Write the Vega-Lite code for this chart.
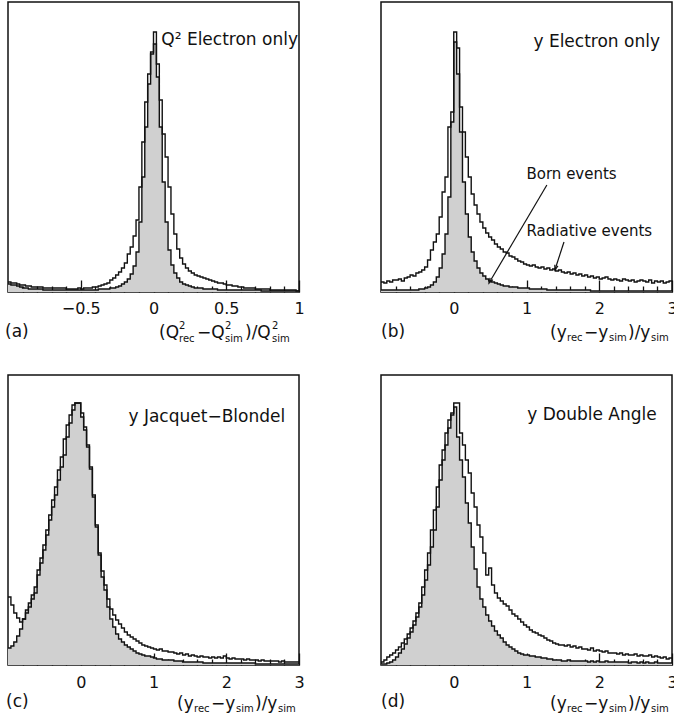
{
"$schema": "https://vega.github.io/schema/vega-lite/v6.json",
"padding": {"left": 4, "top": 1, "right": 0, "bottom": 0},
"columns": 2,
"spacing": {"row": 83, "column": 82},
"bounds": "flush",
"config": {
  "view": {"stroke": "#111", "strokeWidth": 1.5},
  "axis": {"domain": false, "grid": false, "tickColor": "#111", "tickWidth": 1.3, "labelFont": "DejaVu Sans", "labelFontSize": 16, "labelColor": "#111", "labelFlush": false, "labelOverlap": false, "labelBound": false},
  "text": {"font": "DejaVu Sans", "color": "#111", "baseline": "middle", "align": "left"}
},
"datasets": {
"a": [
{"x":-1,"r":10,"b":8},{"x":-0.98,"r":9,"b":7},{"x":-0.96,"r":9,"b":7},{"x":-0.94,"r":8,"b":6},{"x":-0.92,"r":7,"b":5},
{"x":-0.9,"r":7,"b":4},{"x":-0.88,"r":6,"b":4},{"x":-0.86,"r":6,"b":3},{"x":-0.84,"r":5,"b":3},{"x":-0.82,"r":5,"b":3},
{"x":-0.8,"r":5,"b":3},{"x":-0.78,"r":5,"b":3},{"x":-0.76,"r":4,"b":2},{"x":-0.74,"r":4,"b":2},{"x":-0.72,"r":4,"b":2},
{"x":-0.7,"r":4,"b":2},{"x":-0.68,"r":4,"b":2},{"x":-0.66,"r":4,"b":2},{"x":-0.64,"r":4,"b":2},{"x":-0.62,"r":4,"b":2},
{"x":-0.6,"r":3,"b":2},{"x":-0.58,"r":3,"b":2},{"x":-0.56,"r":3,"b":2},{"x":-0.54,"r":3,"b":2},{"x":-0.52,"r":4,"b":2},
{"x":-0.5,"r":3,"b":2},{"x":-0.48,"r":4,"b":2},{"x":-0.46,"r":4,"b":2},{"x":-0.44,"r":4,"b":2},{"x":-0.42,"r":5,"b":2},
{"x":-0.4,"r":5,"b":2},{"x":-0.38,"r":6,"b":3},{"x":-0.36,"r":7,"b":3},{"x":-0.34,"r":8,"b":3},{"x":-0.32,"r":9,"b":3},
{"x":-0.3,"r":12,"b":4},{"x":-0.28,"r":14,"b":4},{"x":-0.26,"r":17,"b":5},{"x":-0.24,"r":20,"b":6},{"x":-0.22,"r":24,"b":8},
{"x":-0.2,"r":29,"b":10},{"x":-0.18,"r":38,"b":13},{"x":-0.16,"r":45,"b":18},{"x":-0.14,"r":56,"b":26},{"x":-0.12,"r":72,"b":40},
{"x":-0.1,"r":105,"b":70},{"x":-0.08,"r":150,"b":115},{"x":-0.06,"r":190,"b":165},{"x":-0.04,"r":218,"b":208},{"x":-0.02,"r":240,"b":238},
{"x":0,"r":260,"b":248},{"x":0.02,"r":228,"b":215},{"x":0.04,"r":192,"b":165},{"x":0.06,"r":158,"b":110},{"x":0.08,"r":135,"b":70},
{"x":0.1,"r":105,"b":42},{"x":0.12,"r":78,"b":27},{"x":0.14,"r":58,"b":19},{"x":0.16,"r":43,"b":14},{"x":0.18,"r":34,"b":10},
{"x":0.2,"r":28,"b":8},{"x":0.22,"r":24,"b":7},{"x":0.24,"r":21,"b":6},{"x":0.26,"r":19,"b":5},{"x":0.28,"r":17,"b":4},
{"x":0.3,"r":16,"b":4},{"x":0.32,"r":15,"b":4},{"x":0.34,"r":14,"b":3},{"x":0.36,"r":13,"b":3},{"x":0.38,"r":12,"b":3},
{"x":0.4,"r":11,"b":3},{"x":0.42,"r":10,"b":3},{"x":0.44,"r":9,"b":2},{"x":0.46,"r":9,"b":2},{"x":0.48,"r":8,"b":2},
{"x":0.5,"r":7,"b":2},{"x":0.52,"r":7,"b":2},{"x":0.54,"r":6,"b":2},{"x":0.56,"r":6,"b":2},{"x":0.58,"r":5,"b":2},
{"x":0.6,"r":5,"b":2},{"x":0.62,"r":4,"b":2},{"x":0.64,"r":4,"b":2},{"x":0.66,"r":4,"b":2},{"x":0.68,"r":4,"b":2},
{"x":0.7,"r":3,"b":2},{"x":0.72,"r":3,"b":2},{"x":0.74,"r":3,"b":1},{"x":0.76,"r":3,"b":1},{"x":0.78,"r":3,"b":1},
{"x":0.8,"r":2,"b":1},{"x":0.82,"r":2,"b":1},{"x":0.84,"r":2,"b":1},{"x":0.86,"r":2,"b":1},{"x":0.88,"r":2,"b":1},
{"x":0.9,"r":2,"b":1},{"x":0.92,"r":2,"b":1},{"x":0.94,"r":2,"b":1},{"x":0.96,"r":2,"b":1},{"x":0.98,"r":1,"b":1},
{"x":1,"r":1,"b":1}
],
"b": [
{"x":-1,"r":10,"b":2},{"x":-0.96,"r":9,"b":2},{"x":-0.92,"r":11,"b":2},{"x":-0.88,"r":10,"b":2},{"x":-0.84,"r":12,"b":2},
{"x":-0.8,"r":12,"b":2},{"x":-0.76,"r":13,"b":2},{"x":-0.72,"r":11,"b":2},{"x":-0.68,"r":14,"b":2},{"x":-0.64,"r":15,"b":2},
{"x":-0.6,"r":17,"b":2},{"x":-0.56,"r":16,"b":2},{"x":-0.52,"r":19,"b":2},{"x":-0.48,"r":20,"b":3},{"x":-0.44,"r":22,"b":3},
{"x":-0.4,"r":25,"b":4},{"x":-0.36,"r":32,"b":5},{"x":-0.32,"r":42,"b":7},{"x":-0.28,"r":50,"b":10},{"x":-0.24,"r":58,"b":15},
{"x":-0.2,"r":75,"b":24},{"x":-0.16,"r":100,"b":38},{"x":-0.12,"r":115,"b":58},{"x":-0.08,"r":165,"b":95},{"x":-0.04,"r":180,"b":170},
{"x":0,"r":260,"b":250},{"x":0.04,"r":244,"b":218},{"x":0.08,"r":185,"b":160},{"x":0.12,"r":160,"b":110},{"x":0.16,"r":135,"b":78},
{"x":0.2,"r":115,"b":55},{"x":0.24,"r":98,"b":40},{"x":0.28,"r":87,"b":31},{"x":0.32,"r":78,"b":24},{"x":0.36,"r":70,"b":19},
{"x":0.4,"r":64,"b":16},{"x":0.44,"r":59,"b":13},{"x":0.48,"r":55,"b":11},{"x":0.52,"r":52,"b":10},{"x":0.56,"r":48,"b":9},
{"x":0.6,"r":45,"b":8},{"x":0.64,"r":43,"b":7},{"x":0.68,"r":40,"b":6},{"x":0.72,"r":39,"b":6},{"x":0.76,"r":36,"b":5},
{"x":0.8,"r":35,"b":5},{"x":0.84,"r":33,"b":5},{"x":0.88,"r":31,"b":4},{"x":0.92,"r":30,"b":4},{"x":0.96,"r":28,"b":4},
{"x":1,"r":27,"b":4},{"x":1.04,"r":26,"b":3},{"x":1.08,"r":27,"b":3},{"x":1.12,"r":25,"b":3},{"x":1.16,"r":24,"b":3},
{"x":1.2,"r":25,"b":3},{"x":1.24,"r":23,"b":3},{"x":1.28,"r":24,"b":2},{"x":1.32,"r":22,"b":2},{"x":1.36,"r":23,"b":2},
{"x":1.4,"r":21,"b":2},{"x":1.44,"r":22,"b":2},{"x":1.48,"r":20,"b":2},{"x":1.52,"r":19,"b":2},{"x":1.56,"r":20,"b":2},
{"x":1.6,"r":18,"b":2},{"x":1.64,"r":19,"b":2},{"x":1.68,"r":17,"b":2},{"x":1.72,"r":18,"b":2},{"x":1.76,"r":16,"b":2},
{"x":1.8,"r":17,"b":2},{"x":1.84,"r":15,"b":2},{"x":1.88,"r":16,"b":1},{"x":1.92,"r":14,"b":1},{"x":1.96,"r":15,"b":1},
{"x":2,"r":13,"b":1},{"x":2.04,"r":14,"b":1},{"x":2.08,"r":15,"b":1},{"x":2.12,"r":13,"b":1},{"x":2.16,"r":12,"b":1},
{"x":2.2,"r":13,"b":1},{"x":2.24,"r":12,"b":1},{"x":2.28,"r":11,"b":1},{"x":2.32,"r":13,"b":1},{"x":2.36,"r":12,"b":1},
{"x":2.4,"r":11,"b":1},{"x":2.44,"r":12,"b":1},{"x":2.48,"r":10,"b":1},{"x":2.52,"r":11,"b":1},{"x":2.56,"r":12,"b":1},
{"x":2.6,"r":11,"b":1},{"x":2.64,"r":10,"b":1},{"x":2.68,"r":12,"b":1},{"x":2.72,"r":9,"b":1},{"x":2.76,"r":11,"b":1},
{"x":2.8,"r":10,"b":1},{"x":2.84,"r":11,"b":1},{"x":2.88,"r":9,"b":1},{"x":2.92,"r":10,"b":1},{"x":2.96,"r":11,"b":1},
{"x":3,"r":11,"b":1}
],
"c": [
{"x":-1,"r":68,"b":17},{"x":-0.96,"r":60,"b":19},{"x":-0.92,"r":52,"b":23},{"x":-0.88,"r":47,"b":29},{"x":-0.84,"r":43,"b":36},
{"x":-0.8,"r":46,"b":46},{"x":-0.76,"r":52,"b":55},{"x":-0.72,"r":58,"b":62},{"x":-0.68,"r":66,"b":70},{"x":-0.64,"r":72,"b":78},
{"x":-0.6,"r":95,"b":90},{"x":-0.56,"r":107,"b":102},{"x":-0.52,"r":120,"b":115},{"x":-0.48,"r":135,"b":130},{"x":-0.44,"r":150,"b":145},
{"x":-0.4,"r":165,"b":158},{"x":-0.36,"r":178,"b":170},{"x":-0.32,"r":195,"b":185},{"x":-0.28,"r":208,"b":198},{"x":-0.24,"r":226,"b":210},
{"x":-0.2,"r":240,"b":228},{"x":-0.16,"r":250,"b":242},{"x":-0.12,"r":260,"b":255},{"x":-0.08,"r":262,"b":262},{"x":-0.04,"r":262,"b":262},
{"x":0,"r":252,"b":248},{"x":0.04,"r":238,"b":235},{"x":0.08,"r":220,"b":218},{"x":0.12,"r":198,"b":196},{"x":0.16,"r":170,"b":168},
{"x":0.2,"r":140,"b":138},{"x":0.24,"r":112,"b":110},{"x":0.28,"r":94,"b":88},{"x":0.32,"r":80,"b":75},{"x":0.36,"r":66,"b":58},
{"x":0.4,"r":56,"b":46},{"x":0.44,"r":50,"b":38},{"x":0.48,"r":45,"b":31},{"x":0.52,"r":41,"b":26},{"x":0.56,"r":37,"b":23},
{"x":0.6,"r":33,"b":20},{"x":0.64,"r":30,"b":18},{"x":0.68,"r":28,"b":16},{"x":0.72,"r":26,"b":14},{"x":0.76,"r":24,"b":12},
{"x":0.8,"r":22,"b":11},{"x":0.84,"r":20,"b":10},{"x":0.88,"r":19,"b":9},{"x":0.92,"r":18,"b":9},{"x":0.96,"r":17,"b":8},
{"x":1,"r":16,"b":7},{"x":1.04,"r":15,"b":6},{"x":1.08,"r":16,"b":6},{"x":1.12,"r":14,"b":5},{"x":1.16,"r":14,"b":5},
{"x":1.2,"r":13,"b":5},{"x":1.24,"r":13,"b":5},{"x":1.28,"r":12,"b":4},{"x":1.32,"r":11,"b":4},{"x":1.36,"r":12,"b":4},
{"x":1.4,"r":10,"b":3},{"x":1.44,"r":11,"b":3},{"x":1.48,"r":9,"b":3},{"x":1.52,"r":10,"b":3},{"x":1.56,"r":9,"b":3},
{"x":1.6,"r":8,"b":3},{"x":1.64,"r":9,"b":3},{"x":1.68,"r":8,"b":2},{"x":1.72,"r":8,"b":2},{"x":1.76,"r":7,"b":2},
{"x":1.8,"r":8,"b":2},{"x":1.84,"r":7,"b":2},{"x":1.88,"r":8,"b":2},{"x":1.92,"r":7,"b":2},{"x":1.96,"r":9,"b":2},
{"x":2,"r":7,"b":2},{"x":2.04,"r":6,"b":2},{"x":2.08,"r":7,"b":2},{"x":2.12,"r":6,"b":2},{"x":2.16,"r":6,"b":2},
{"x":2.2,"r":6,"b":2},{"x":2.24,"r":5,"b":2},{"x":2.28,"r":6,"b":2},{"x":2.32,"r":5,"b":2},{"x":2.36,"r":5,"b":2},
{"x":2.4,"r":5,"b":1},{"x":2.44,"r":4,"b":1},{"x":2.48,"r":5,"b":1},{"x":2.52,"r":4,"b":1},{"x":2.56,"r":4,"b":1},
{"x":2.6,"r":4,"b":1},{"x":2.64,"r":4,"b":1},{"x":2.68,"r":4,"b":1},{"x":2.72,"r":3,"b":1},{"x":2.76,"r":4,"b":1},
{"x":2.8,"r":3,"b":1},{"x":2.84,"r":3,"b":1},{"x":2.88,"r":3,"b":1},{"x":2.92,"r":3,"b":1},{"x":2.96,"r":3,"b":1},
{"x":3,"r":3,"b":1}
],
"d": [
{"x":-1,"r":3,"b":1},{"x":-0.96,"r":5,"b":1},{"x":-0.92,"r":8,"b":2},{"x":-0.88,"r":10,"b":3},{"x":-0.84,"r":12,"b":5},
{"x":-0.8,"r":15,"b":8},{"x":-0.76,"r":18,"b":12},{"x":-0.72,"r":22,"b":16},{"x":-0.68,"r":26,"b":21},{"x":-0.64,"r":31,"b":27},
{"x":-0.6,"r":37,"b":33},{"x":-0.56,"r":44,"b":40},{"x":-0.52,"r":52,"b":48},{"x":-0.48,"r":62,"b":58},{"x":-0.44,"r":78,"b":70},
{"x":-0.4,"r":95,"b":85},{"x":-0.36,"r":112,"b":100},{"x":-0.32,"r":135,"b":118},{"x":-0.28,"r":155,"b":135},{"x":-0.24,"r":178,"b":158},
{"x":-0.2,"r":200,"b":185},{"x":-0.16,"r":215,"b":205},{"x":-0.12,"r":232,"b":220},{"x":-0.08,"r":245,"b":237},{"x":-0.04,"r":252,"b":250},
{"x":0,"r":262,"b":258},{"x":0.04,"r":262,"b":228},{"x":0.08,"r":232,"b":205},{"x":0.12,"r":220,"b":188},{"x":0.16,"r":205,"b":162},
{"x":0.2,"r":192,"b":142},{"x":0.24,"r":172,"b":118},{"x":0.28,"r":158,"b":96},{"x":0.32,"r":140,"b":78},{"x":0.36,"r":128,"b":66},
{"x":0.4,"r":112,"b":58},{"x":0.44,"r":90,"b":50},{"x":0.48,"r":97,"b":44},{"x":0.52,"r":80,"b":39},{"x":0.56,"r":72,"b":34},
{"x":0.6,"r":67,"b":30},{"x":0.64,"r":64,"b":27},{"x":0.68,"r":61,"b":23},{"x":0.72,"r":59,"b":20},{"x":0.76,"r":55,"b":18},
{"x":0.8,"r":51,"b":16},{"x":0.84,"r":49,"b":14},{"x":0.88,"r":46,"b":12},{"x":0.92,"r":43,"b":11},{"x":0.96,"r":40,"b":10},
{"x":1,"r":38,"b":10},{"x":1.04,"r":35,"b":9},{"x":1.08,"r":33,"b":9},{"x":1.12,"r":32,"b":8},{"x":1.16,"r":30,"b":8},
{"x":1.2,"r":29,"b":7},{"x":1.24,"r":27,"b":7},{"x":1.28,"r":25,"b":6},{"x":1.32,"r":24,"b":6},{"x":1.36,"r":22,"b":5},
{"x":1.4,"r":21,"b":5},{"x":1.44,"r":20,"b":5},{"x":1.48,"r":20,"b":4},{"x":1.52,"r":19,"b":4},{"x":1.56,"r":20,"b":5},
{"x":1.6,"r":18,"b":4},{"x":1.64,"r":19,"b":4},{"x":1.68,"r":17,"b":4},{"x":1.72,"r":18,"b":4},{"x":1.76,"r":16,"b":4},
{"x":1.8,"r":16,"b":4},{"x":1.84,"r":15,"b":3},{"x":1.88,"r":17,"b":4},{"x":1.92,"r":14,"b":3},{"x":1.96,"r":15,"b":4},
{"x":2,"r":14,"b":3},{"x":2.04,"r":13,"b":3},{"x":2.08,"r":14,"b":4},{"x":2.12,"r":12,"b":3},{"x":2.16,"r":12,"b":3},
{"x":2.2,"r":12,"b":3},{"x":2.24,"r":11,"b":3},{"x":2.28,"r":12,"b":3},{"x":2.32,"r":10,"b":3},{"x":2.36,"r":11,"b":3},
{"x":2.4,"r":10,"b":2},{"x":2.44,"r":10,"b":3},{"x":2.48,"r":11,"b":3},{"x":2.52,"r":9,"b":2},{"x":2.56,"r":10,"b":3},
{"x":2.6,"r":9,"b":2},{"x":2.64,"r":9,"b":3},{"x":2.68,"r":10,"b":2},{"x":2.72,"r":8,"b":2},{"x":2.76,"r":9,"b":3},
{"x":2.8,"r":8,"b":2},{"x":2.84,"r":7,"b":2},{"x":2.88,"r":8,"b":2},{"x":2.92,"r":6,"b":2},{"x":2.96,"r":7,"b":2},
{"x":3,"r":7,"b":2}
]
},
"concat": [
{
 "width": 291, "height": 290,
 "data": {"name": "a"},
 "resolve": {"axis": {"x": "independent"}},
 "layer": [
  {"mark": {"type": "area", "interpolate": "step-after", "color": "#d0d0d0"},
   "encoding": {
    "x": {"field": "x", "type": "quantitative", "scale": {"domain": [-1, 1], "nice": false, "zero": false},
      "axis": {"orient": "bottom", "title": null, "values": [-0.9,-0.8,-0.7,-0.6,-0.4,-0.3,-0.2,-0.1,0.1,0.2,0.3,0.4,0.6,0.7,0.8,0.9], "tickSize": -6, "labels": false}},
    "y": {"field": "b", "type": "quantitative", "scale": {"domain": [0, 290], "nice": false}, "axis": null}}},
  {"mark": {"type": "line", "interpolate": "step-after", "color": "#111", "strokeWidth": 1.4},
   "encoding": {"x": {"field": "x", "type": "quantitative",
      "axis": {"orient": "bottom", "title": null, "values": [-0.5,0,0.5,1], "tickSize": -12, "labelPadding": 20, "format": "~g"}},
    "y": {"field": "b", "type": "quantitative"}}},
  {"mark": {"type": "line", "interpolate": "step-after", "color": "#111", "strokeWidth": 1.4},
   "encoding": {"x": {"field": "x", "type": "quantitative", "axis": null}, "y": {"field": "r", "type": "quantitative"}}},
  {"data": {"values": [{}]}, "mark": {"type": "text", "align": "right", "fontSize": 17, "dx": -1},
   "encoding": {"x": {"datum": 1, "axis": null}, "y": {"datum": 252}, "text": {"value": "Q\u00b2 Electron only"}}},
  {"data": {"values": [{}]}, "mark": {"type": "text", "fontSize": 17, "dx": -3},
   "encoding": {"x": {"datum": -1, "axis": null}, "y": {"datum": -40}, "text": {"value": "(a)"}}},
  {"data": {"values": [{}]}, "mark": {"type": "text", "fontSize": 17, "dx": -140},
   "encoding": {"x": {"datum": 1, "axis": null}, "y": {"datum": -41}, "text": {"value": "(Q"}}},
  {"data": {"values": [{}]}, "mark": {"type": "text", "fontSize": 10, "dx": -120, "dy": -7},
   "encoding": {"x": {"datum": 1, "axis": null}, "y": {"datum": -41}, "text": {"value": "2"}}},
  {"data": {"values": [{}]}, "mark": {"type": "text", "fontSize": 10, "dx": -120, "dy": 6},
   "encoding": {"x": {"datum": 1, "axis": null}, "y": {"datum": -41}, "text": {"value": "rec"}}},
  {"data": {"values": [{}]}, "mark": {"type": "text", "fontSize": 17, "dx": -102},
   "encoding": {"x": {"datum": 1, "axis": null}, "y": {"datum": -41}, "text": {"value": "\u2212Q"}}},
  {"data": {"values": [{}]}, "mark": {"type": "text", "fontSize": 10, "dx": -74, "dy": -7},
   "encoding": {"x": {"datum": 1, "axis": null}, "y": {"datum": -41}, "text": {"value": "2"}}},
  {"data": {"values": [{}]}, "mark": {"type": "text", "fontSize": 10, "dx": -74, "dy": 6},
   "encoding": {"x": {"datum": 1, "axis": null}, "y": {"datum": -41}, "text": {"value": "sim"}}},
  {"data": {"values": [{}]}, "mark": {"type": "text", "fontSize": 17, "dx": -54},
   "encoding": {"x": {"datum": 1, "axis": null}, "y": {"datum": -41}, "text": {"value": ")/Q"}}},
  {"data": {"values": [{}]}, "mark": {"type": "text", "fontSize": 10, "dx": -27, "dy": -7},
   "encoding": {"x": {"datum": 1, "axis": null}, "y": {"datum": -41}, "text": {"value": "2"}}},
  {"data": {"values": [{}]}, "mark": {"type": "text", "fontSize": 10, "dx": -27, "dy": 6},
   "encoding": {"x": {"datum": 1, "axis": null}, "y": {"datum": -41}, "text": {"value": "sim"}}}
 ]
},
{
 "width": 291, "height": 290,
 "data": {"name": "b"},
 "resolve": {"axis": {"x": "independent"}},
 "layer": [
  {"mark": {"type": "area", "interpolate": "step-after", "color": "#d0d0d0"},
   "encoding": {
    "x": {"field": "x", "type": "quantitative", "scale": {"domain": [-1, 3], "nice": false, "zero": false},
      "axis": {"orient": "bottom", "title": null, "values": [-0.8,-0.6,-0.4,-0.2,0.2,0.4,0.6,0.8,1.2,1.4,1.6,1.8,2.2,2.4,2.6,2.8], "tickSize": -6, "labels": false}},
    "y": {"field": "b", "type": "quantitative", "scale": {"domain": [0, 290], "nice": false}, "axis": null}}},
  {"mark": {"type": "line", "interpolate": "step-after", "color": "#111", "strokeWidth": 1.4},
   "encoding": {"x": {"field": "x", "type": "quantitative",
      "axis": {"orient": "bottom", "title": null, "values": [0,1,2,3], "tickSize": -12, "labelPadding": 20, "format": "~g"}},
    "y": {"field": "b", "type": "quantitative"}}},
  {"mark": {"type": "line", "interpolate": "step-after", "color": "#111", "strokeWidth": 1.4},
   "encoding": {"x": {"field": "x", "type": "quantitative", "axis": null}, "y": {"field": "r", "type": "quantitative"}}},
  {"data": {"values": [{}]}, "mark": {"type": "rule", "color": "#111", "strokeWidth": 1.2},
   "encoding": {"x": {"datum": 1.28, "axis": null}, "y": {"datum": 107}, "x2": {"datum": 0.485}, "y2": {"datum": 9}}},
  {"data": {"values": [{}]}, "mark": {"type": "point", "shape": "M-0.6,1.8L0,0L0.6,1.8", "filled": false, "color": "#111", "strokeWidth": 1.2, "size": 30, "angle": 210.6, "opacity": 1},
   "encoding": {"x": {"datum": 0.485, "axis": null}, "y": {"datum": 9}}},
  {"data": {"values": [{}]}, "mark": {"type": "rule", "color": "#111", "strokeWidth": 1.2},
   "encoding": {"x": {"datum": 1.515, "axis": null}, "y": {"datum": 50}, "x2": {"datum": 1.39}, "y2": {"datum": 22}}},
  {"data": {"values": [{}]}, "mark": {"type": "point", "shape": "M-0.6,1.8L0,0L0.6,1.8", "filled": false, "color": "#111", "strokeWidth": 1.2, "size": 30, "angle": 197.8, "opacity": 1},
   "encoding": {"x": {"datum": 1.39, "axis": null}, "y": {"datum": 22}}},
  {"data": {"values": [{}]}, "mark": {"type": "text", "fontSize": 15},
   "encoding": {"x": {"datum": 1.0, "axis": null}, "y": {"datum": 118}, "text": {"value": "Born events"}}},
  {"data": {"values": [{}]}, "mark": {"type": "text", "fontSize": 15},
   "encoding": {"x": {"datum": 1.0, "axis": null}, "y": {"datum": 61}, "text": {"value": "Radiative events"}}},
  {"data": {"values": [{}]}, "mark": {"type": "text", "align": "right", "fontSize": 17},
   "encoding": {"x": {"datum": 2.835, "axis": null}, "y": {"datum": 250}, "text": {"value": "y Electron only"}}},
  {"data": {"values": [{}]}, "mark": {"type": "text", "fontSize": 17, "dx": 0},
   "encoding": {"x": {"datum": -1, "axis": null}, "y": {"datum": -40}, "text": {"value": "(b)"}}},
  {"data": {"values": [{}]}, "mark": {"type": "text", "fontSize": 17, "dx": -122},
   "encoding": {"x": {"datum": 3, "axis": null}, "y": {"datum": -41}, "text": {"value": "(y"}}},
  {"data": {"values": [{}]}, "mark": {"type": "text", "fontSize": 10, "dx": -105, "dy": 5},
   "encoding": {"x": {"datum": 3, "axis": null}, "y": {"datum": -41}, "text": {"value": "rec"}}},
  {"data": {"values": [{}]}, "mark": {"type": "text", "fontSize": 17, "dx": -88},
   "encoding": {"x": {"datum": 3, "axis": null}, "y": {"datum": -41}, "text": {"value": "\u2212y"}}},
  {"data": {"values": [{}]}, "mark": {"type": "text", "fontSize": 10, "dx": -63, "dy": 5},
   "encoding": {"x": {"datum": 3, "axis": null}, "y": {"datum": -41}, "text": {"value": "sim"}}},
  {"data": {"values": [{}]}, "mark": {"type": "text", "fontSize": 17, "dx": -44},
   "encoding": {"x": {"datum": 3, "axis": null}, "y": {"datum": -41}, "text": {"value": ")/y"}}},
  {"data": {"values": [{}]}, "mark": {"type": "text", "fontSize": 10, "dx": -21, "dy": 5},
   "encoding": {"x": {"datum": 3, "axis": null}, "y": {"datum": -41}, "text": {"value": "sim"}}}
 ]
},
{
 "width": 291, "height": 290,
 "data": {"name": "c"},
 "resolve": {"axis": {"x": "independent"}},
 "layer": [
  {"mark": {"type": "area", "interpolate": "step-after", "color": "#d0d0d0"},
   "encoding": {
    "x": {"field": "x", "type": "quantitative", "scale": {"domain": [-1, 3], "nice": false, "zero": false},
      "axis": {"orient": "bottom", "title": null, "values": [-0.8,-0.6,-0.4,-0.2,0.2,0.4,0.6,0.8,1.2,1.4,1.6,1.8,2.2,2.4,2.6,2.8], "tickSize": -6, "labels": false}},
    "y": {"field": "b", "type": "quantitative", "scale": {"domain": [0, 290], "nice": false}, "axis": null}}},
  {"mark": {"type": "line", "interpolate": "step-after", "color": "#111", "strokeWidth": 1.4},
   "encoding": {"x": {"field": "x", "type": "quantitative",
      "axis": {"orient": "bottom", "title": null, "values": [0,1,2,3], "tickSize": -12, "labelPadding": 21, "format": "~g"}},
    "y": {"field": "b", "type": "quantitative"}}},
  {"mark": {"type": "line", "interpolate": "step-after", "color": "#111", "strokeWidth": 1.4},
   "encoding": {"x": {"field": "x", "type": "quantitative", "axis": null}, "y": {"field": "r", "type": "quantitative"}}},
  {"data": {"values": [{}]}, "mark": {"type": "text", "align": "right", "fontSize": 17},
   "encoding": {"x": {"datum": 2.81, "axis": null}, "y": {"datum": 248}, "text": {"value": "y Jacquet\u2212Blondel"}}},
  {"data": {"values": [{}]}, "mark": {"type": "text", "fontSize": 17, "dx": -2},
   "encoding": {"x": {"datum": -1, "axis": null}, "y": {"datum": -37}, "text": {"value": "(c)"}}},
  {"data": {"values": [{}]}, "mark": {"type": "text", "fontSize": 17, "dx": -122},
   "encoding": {"x": {"datum": 3, "axis": null}, "y": {"datum": -39}, "text": {"value": "(y"}}},
  {"data": {"values": [{}]}, "mark": {"type": "text", "fontSize": 10, "dx": -105, "dy": 5},
   "encoding": {"x": {"datum": 3, "axis": null}, "y": {"datum": -39}, "text": {"value": "rec"}}},
  {"data": {"values": [{}]}, "mark": {"type": "text", "fontSize": 17, "dx": -88},
   "encoding": {"x": {"datum": 3, "axis": null}, "y": {"datum": -39}, "text": {"value": "\u2212y"}}},
  {"data": {"values": [{}]}, "mark": {"type": "text", "fontSize": 10, "dx": -63, "dy": 5},
   "encoding": {"x": {"datum": 3, "axis": null}, "y": {"datum": -39}, "text": {"value": "sim"}}},
  {"data": {"values": [{}]}, "mark": {"type": "text", "fontSize": 17, "dx": -44},
   "encoding": {"x": {"datum": 3, "axis": null}, "y": {"datum": -39}, "text": {"value": ")/y"}}},
  {"data": {"values": [{}]}, "mark": {"type": "text", "fontSize": 10, "dx": -21, "dy": 5},
   "encoding": {"x": {"datum": 3, "axis": null}, "y": {"datum": -39}, "text": {"value": "sim"}}}
 ]
},
{
 "width": 291, "height": 290,
 "data": {"name": "d"},
 "resolve": {"axis": {"x": "independent"}},
 "layer": [
  {"mark": {"type": "area", "interpolate": "step-after", "color": "#d0d0d0"},
   "encoding": {
    "x": {"field": "x", "type": "quantitative", "scale": {"domain": [-1, 3], "nice": false, "zero": false},
      "axis": {"orient": "bottom", "title": null, "values": [-0.8,-0.6,-0.4,-0.2,0.2,0.4,0.6,0.8,1.2,1.4,1.6,1.8,2.2,2.4,2.6,2.8], "tickSize": -6, "labels": false}},
    "y": {"field": "b", "type": "quantitative", "scale": {"domain": [0, 290], "nice": false}, "axis": null}}},
  {"mark": {"type": "line", "interpolate": "step-after", "color": "#111", "strokeWidth": 1.4},
   "encoding": {"x": {"field": "x", "type": "quantitative",
      "axis": {"orient": "bottom", "title": null, "values": [0,1,2,3], "tickSize": -12, "labelPadding": 21, "format": "~g"}},
    "y": {"field": "b", "type": "quantitative"}}},
  {"mark": {"type": "line", "interpolate": "step-after", "color": "#111", "strokeWidth": 1.4},
   "encoding": {"x": {"field": "x", "type": "quantitative", "axis": null}, "y": {"field": "r", "type": "quantitative"}}},
  {"data": {"values": [{}]}, "mark": {"type": "text", "align": "right", "fontSize": 17},
   "encoding": {"x": {"datum": 2.79, "axis": null}, "y": {"datum": 250}, "text": {"value": "y Double Angle"}}},
  {"data": {"values": [{}]}, "mark": {"type": "text", "fontSize": 17, "dx": 0},
   "encoding": {"x": {"datum": -1, "axis": null}, "y": {"datum": -37}, "text": {"value": "(d)"}}},
  {"data": {"values": [{}]}, "mark": {"type": "text", "fontSize": 17, "dx": -122},
   "encoding": {"x": {"datum": 3, "axis": null}, "y": {"datum": -39}, "text": {"value": "(y"}}},
  {"data": {"values": [{}]}, "mark": {"type": "text", "fontSize": 10, "dx": -105, "dy": 5},
   "encoding": {"x": {"datum": 3, "axis": null}, "y": {"datum": -39}, "text": {"value": "rec"}}},
  {"data": {"values": [{}]}, "mark": {"type": "text", "fontSize": 17, "dx": -88},
   "encoding": {"x": {"datum": 3, "axis": null}, "y": {"datum": -39}, "text": {"value": "\u2212y"}}},
  {"data": {"values": [{}]}, "mark": {"type": "text", "fontSize": 10, "dx": -63, "dy": 5},
   "encoding": {"x": {"datum": 3, "axis": null}, "y": {"datum": -39}, "text": {"value": "sim"}}},
  {"data": {"values": [{}]}, "mark": {"type": "text", "fontSize": 17, "dx": -44},
   "encoding": {"x": {"datum": 3, "axis": null}, "y": {"datum": -39}, "text": {"value": ")/y"}}},
  {"data": {"values": [{}]}, "mark": {"type": "text", "fontSize": 10, "dx": -21, "dy": 5},
   "encoding": {"x": {"datum": 3, "axis": null}, "y": {"datum": -39}, "text": {"value": "sim"}}}
 ]
}
]
}
